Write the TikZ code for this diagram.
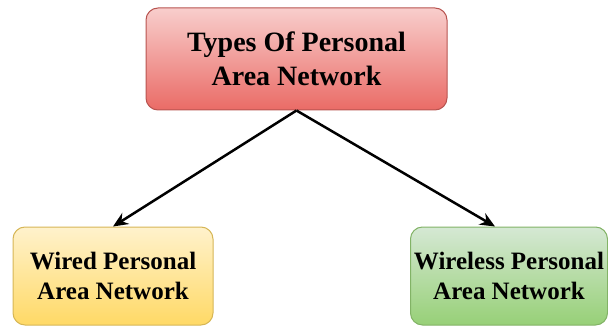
\documentclass[tikz,border=0pt]{standalone}
\usepackage{fontspec}
\setmainfont{Liberation Serif}
\newfontfamily\panfont{Liberation Serif}
\usetikzlibrary{positioning,arrows.meta}
\definecolor{redtop}{HTML}{F8CECC}
\definecolor{redbot}{HTML}{EA6B66}
\definecolor{redline}{HTML}{B85450}
\definecolor{yeltop}{HTML}{FFF2CC}
\definecolor{yelbot}{HTML}{FFD966}
\definecolor{yelline}{HTML}{D6B656}
\definecolor{grntop}{HTML}{D5E8D4}
\definecolor{grnbot}{HTML}{97D077}
\definecolor{grnline}{HTML}{82B366}
\tikzset{
  typebox/.style={
    rectangle,
    rounded corners=12pt,
    line width=1pt,
    align=center,
    font=\panfont\bfseries\fontsize{25}{30}\selectfont,
    inner sep=0pt
  },
  rootbox/.style={typebox,
    draw=redline, top color=redtop, bottom color=redbot,
    minimum width=301pt, minimum height=102pt,
    font=\panfont\bfseries\fontsize{28}{34}\selectfont},
  wiredbox/.style={typebox,
    draw=yelline, top color=yeltop, bottom color=yelbot,
    minimum width=200pt, minimum height=98pt},
  wirelessbox/.style={typebox,
    draw=grnline, top color=grntop, bottom color=grnbot,
    minimum width=197pt, minimum height=98pt},
  link/.style={->, line width=2.5pt}
}

\begin{document}
\begin{tikzpicture}[>={Stealth[length=15pt,width=13pt,inset=5pt]},x=1pt,y=-1pt]
\useasboundingbox (0,0) rectangle (608,326);

\node[rootbox] (pan) at (296.5,59)
  {Types Of Personal\\Area Network};
\node[wiredbox] (wired) at (113,276)
  {Wired Personal\\Area Network};
\node[wirelessbox] (wireless) at (509,276)
  {Wireless Personal\\Area Network};

\draw[link] (pan.south) -- (wired.north);
\draw[link] (pan.south) -- ([xshift=-14pt]wireless.north);
\end{tikzpicture}
\end{document}
